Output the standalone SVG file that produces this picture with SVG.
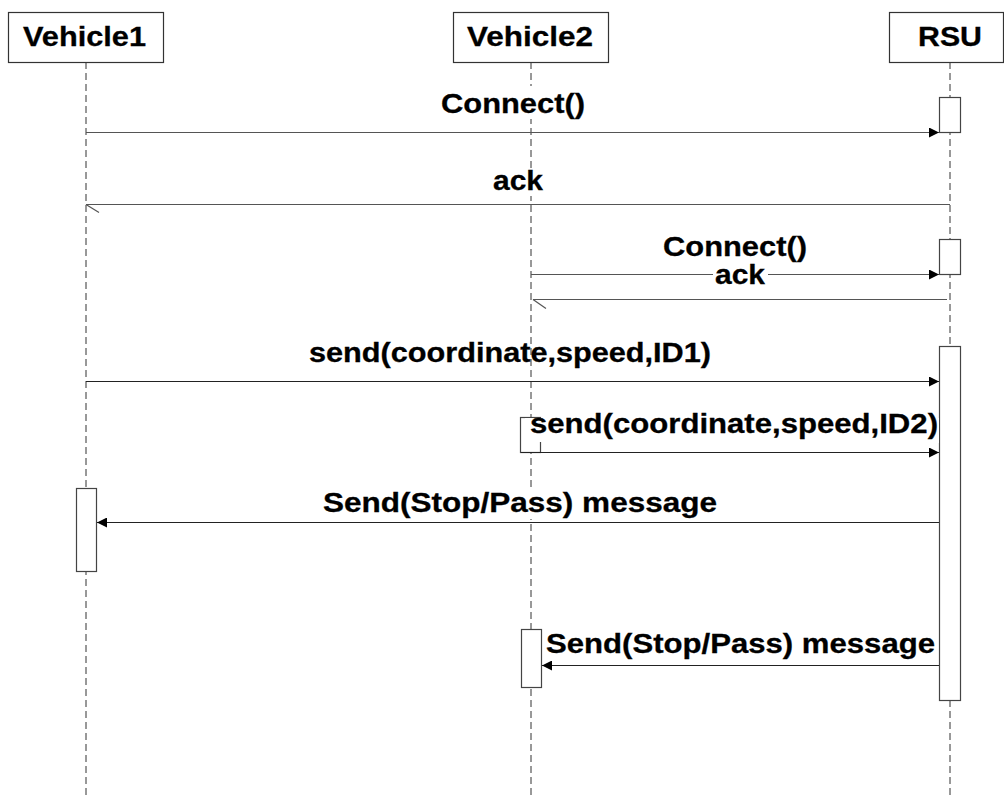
<svg xmlns="http://www.w3.org/2000/svg" width="1004" height="799" viewBox="0 0 1004 799">
  <style>
    .head { fill: #ffffff; stroke: #333333; stroke-width: 1.2; }
    .life { stroke: #333333; stroke-width: 1; stroke-dasharray: 7 4; fill: none; }
    .act { fill: #ffffff; stroke: #444444; stroke-width: 1.2; }
    .msg { stroke: #222222; stroke-width: 1.2; fill: none; }
    .ret { stroke: #555555; stroke-width: 1.2; fill: none; }
    .bg { fill: #ffffff; stroke: none; }
    .hname { font-family: "Liberation Sans", Arial, sans-serif; font-weight: bold; font-size: 27px; fill: #000000; stroke: #000000; stroke-width: 0.3; }
    .lbl { font-family: "Liberation Sans", Arial, sans-serif; font-weight: bold; font-size: 27px; fill: #000000; stroke: #000000; stroke-width: 0.3; }
  </style>
  <defs>
    <marker id="solid" viewBox="0 0 10 10" refX="10" refY="5" markerWidth="10" markerHeight="10" markerUnits="userSpaceOnUse" orient="auto">
      <path d="M0,0 L10,5 L0,10 Z" fill="#000000"/>
    </marker>
  </defs>

  <rect width="1004" height="799" fill="#ffffff"/>

  <!-- lifelines -->
  <g id="lifelines">
    <line class="life" x1="86" y1="62" x2="86" y2="799"/>
    <line class="life" x1="531" y1="62" x2="531" y2="799"/>
    <line class="life" x1="950" y1="62" x2="950" y2="799"/>
  </g>

  <!-- participant heads -->
  <g id="vehicle1">
    <rect class="head" x="8.5" y="12.5" width="155" height="50"/>
    <text class="hname" x="23" y="46" textLength="123" lengthAdjust="spacingAndGlyphs">Vehicle1</text>
  </g>
  <g id="vehicle2">
    <rect class="head" x="453.5" y="12.5" width="155" height="50"/>
    <text class="hname" x="467" y="46" textLength="126" lengthAdjust="spacingAndGlyphs">Vehicle2</text>
  </g>
  <g id="rsu">
    <rect class="head" x="889.5" y="12.5" width="114" height="50"/>
    <text class="hname" x="918" y="46" textLength="64" lengthAdjust="spacingAndGlyphs">RSU</text>
  </g>

  <!-- activation bars -->
  <g id="activations">
    <rect id="rsu-act1" class="act" x="939.5" y="97.5" width="21" height="35"/>
    <rect id="rsu-act2" class="act" x="939.5" y="239.5" width="21" height="35"/>
    <rect id="rsu-act3" class="act" x="939.5" y="346.5" width="21" height="354"/>
    <rect id="v2-act1" class="act" x="520.5" y="417.5" width="20" height="35"/>
    <rect id="v1-act" class="act" x="76.5" y="488.5" width="20" height="83"/>
    <rect id="v2-act2" class="act" x="521.5" y="629.5" width="20" height="58"/>
  </g>

  <!-- messages -->
  <g id="connectors">
    <line class="ret" x1="86" y1="132.5" x2="939" y2="132.5" marker-end="url(#solid)"/>
    <line class="ret" x1="950" y1="204.5" x2="86" y2="204.5"/>
    <polyline class="ret" points="86,204.5 99,212.5"/>
    <line class="ret" x1="531" y1="274.5" x2="939" y2="274.5" marker-end="url(#solid)"/>
    <line class="ret" x1="947" y1="299.5" x2="533" y2="299.5"/>
    <polyline class="ret" points="533,299.5 546,308.5"/>
    <line class="msg" x1="86" y1="381.5" x2="939" y2="381.5" marker-end="url(#solid)"/>
    <line class="msg" x1="521" y1="452.5" x2="939" y2="452.5" marker-end="url(#solid)"/>
    <line class="msg" x1="939" y1="522.5" x2="97" y2="522.5" marker-end="url(#solid)"/>
    <line class="msg" x1="939" y1="665.5" x2="542" y2="665.5" marker-end="url(#solid)"/>
  </g>

  <!-- message labels -->
  <g id="labels">
    <rect class="bg" x="439" y="86" width="149" height="33"/>
    <text class="lbl" x="441" y="113" textLength="144" lengthAdjust="spacingAndGlyphs">Connect()</text>
    <rect class="bg" x="491" y="168" width="55" height="28"/>
    <text class="lbl" x="493" y="190" textLength="50" lengthAdjust="spacingAndGlyphs">ack</text>
    <text class="lbl" x="663" y="256" textLength="144" lengthAdjust="spacingAndGlyphs">Connect()</text>
    <rect class="bg" x="713" y="263" width="55" height="26"/>
    <text class="lbl" x="715" y="284" textLength="50" lengthAdjust="spacingAndGlyphs">ack</text>
    <text class="lbl" x="309" y="362" textLength="402" lengthAdjust="spacingAndGlyphs">send(coordinate,speed,ID1)</text>
    <rect class="bg" x="525" y="418" width="414" height="24"/>
    <rect class="bg" x="542" y="440" width="397" height="3"/>
    <text class="lbl" x="530" y="433" textLength="408" lengthAdjust="spacingAndGlyphs">send(coordinate,speed,ID2)</text>
    <rect class="bg" x="320" y="488" width="400" height="31"/>
    <text class="lbl" x="323" y="512" textLength="394" lengthAdjust="spacingAndGlyphs">Send(Stop/Pass) message</text>
    <text class="lbl" x="546" y="653" textLength="389" lengthAdjust="spacingAndGlyphs">Send(Stop/Pass) message</text>
  </g>
</svg>
